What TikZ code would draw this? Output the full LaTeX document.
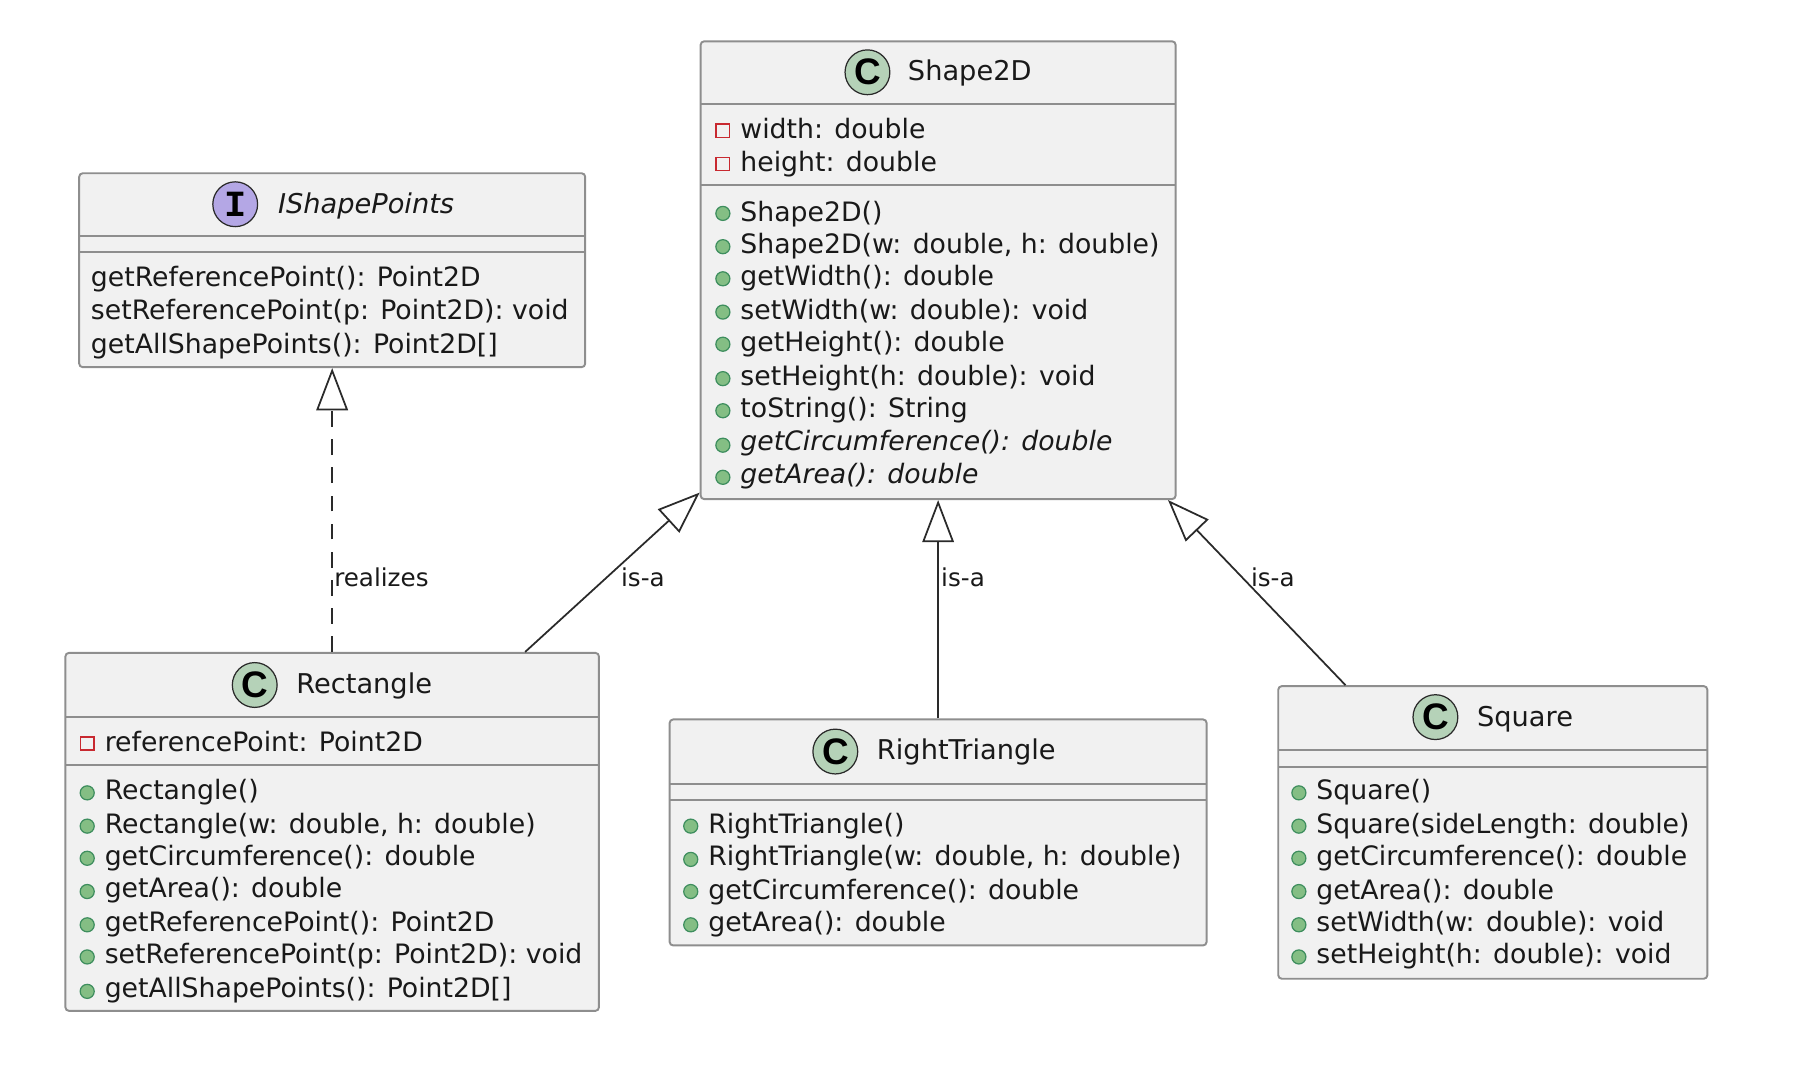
\documentclass[tikz,border=0pt]{standalone}
\usepackage{fontspec}
\setmainfont{DejaVu Sans}
\newfontfamily\slabfont{Liberation Mono}
\newfontfamily\badgefont{Liberation Sans}
\usetikzlibrary{positioning, arrows.meta}
\definecolor{boxfill}{HTML}{F1F1F1}
\definecolor{boxline}{HTML}{8E8E8E}
\definecolor{classfill}{HTML}{B5D2B8}
\definecolor{ifacefill}{HTML}{B4A7E5}
\definecolor{pubfill}{HTML}{84BE84}
\definecolor{publine}{HTML}{3E8E5E}
\definecolor{privline}{HTML}{C82930}
\definecolor{inkline}{HTML}{2A2A2A}
\tikzset{
  classbox/.style={draw=boxline, fill=boxfill, line width=1.1pt, rounded corners=2pt, inner sep=0pt},
  sepline/.style={draw=boxline, line width=1.1pt},
  badge/.style={circle, draw=inkline, line width=.7pt, minimum size=25.5pt, inner sep=0pt, font=\fontsize{21}{21}\selectfont\bfseries\badgefont},
  title/.style={anchor=west, inner sep=0pt, text height=13.5pt, text depth=3pt, font=\fontsize{15.5}{18}\selectfont, text=black!90},
  member/.style={anchor=west, inner sep=0pt, text height=13.5pt, text depth=3pt, font=\fontsize{15.2}{18}\selectfont, text=black!90},
  pubdot/.style={circle, draw=publine, fill=pubfill, line width=.7pt, minimum size=8pt, inner sep=0pt},
  privbox/.style={rectangle, draw=privline, line width=.9pt, minimum size=7.5pt, inner sep=0pt},
  edgelabel/.style={anchor=west, inner sep=0pt, font=\fontsize{14}{16}\selectfont, text=black!90},
  isa/.style={draw=inkline, line width=1pt, -{Triangle[open, fill=white, length=24pt, width=18pt]}},
  realize/.style={isa, dash pattern=on 9pt off 7pt}
}
\begin{document}
\begin{tikzpicture}[x=0.022947cm, y=-0.022947cm]
\useasboundingbox (0,0) rectangle (1567,932.5);

% interface
\node[classbox, minimum width=441*0.6529pt, minimum height=169*0.6529pt] (points) at (289.5,235.5) {};
\draw[sepline] (69,206) -- (510,206);
\draw[sepline] (69,220) -- (510,220);
\node[badge, fill=ifacefill] (pointsI) at (205,178) {\slabfont I};
\node[title] (pointsT) at (242,178) {\itshape IShapePoints};
\node[member] (p1) at (79,242) {getReferencePoint(): Point2D};
\node[member] (p2) at (79,270) {setReferencePoint(p: Point2D): void};
\node[member] (p3) at (79,300) {getAllShapePoints(): Point2D[]};

% abstract class
\node[classbox, minimum width=414*0.6529pt, minimum height=399*0.6529pt] (shape) at (817.6,235.5) {};
\draw[sepline] (611,91) -- (1025,91);
\draw[sepline] (611,161) -- (1025,161);
\node[badge, fill=classfill] (shapeC) at (756,63) {C};
\node[title] (shapeT) at (791,62) {Shape2D};
\node[privbox] (sa1) at (630,114) {};
\node[member] (sat1) at (645,113) {width: double};
\node[privbox] (sa2) at (630,143) {};
\node[member] (sat2) at (645,141) {height: double};
\node[pubdot] (sm1) at (630,186) {};
\node[member] (smt1) at (645,185) {Shape2D()};
\node[pubdot] (sm2) at (630,215) {};
\node[member] (smt2) at (645,213) {Shape2D(w: double, h: double)};
\node[pubdot] (sm3) at (630,243) {};
\node[member] (smt3) at (645,241) {getWidth(): double};
\node[pubdot] (sm4) at (630,272) {};
\node[member] (smt4) at (645,270) {setWidth(w: double): void};
\node[pubdot] (sm5) at (630,300) {};
\node[member] (smt5) at (645,298) {getHeight(): double};
\node[pubdot] (sm6) at (630,330) {};
\node[member] (smt6) at (645,328) {setHeight(h: double): void};
\node[pubdot] (sm7) at (630,358) {};
\node[member] (smt7) at (645,356) {toString(): String};
\node[pubdot] (sm8) at (630,388) {};
\node[member] (smt8) at (645,385) {\itshape getCircumference(): double};
\node[pubdot] (sm9) at (630,416) {};
\node[member] (smt9) at (645,413) {\itshape getArea(): double};

% rectangle
\node[classbox, minimum width=465*0.6529pt, minimum height=312*0.6529pt] (rect) at (289.5,725) {};
\draw[sepline] (57,625) -- (522,625);
\draw[sepline] (57,667) -- (522,667);
\node[badge, fill=classfill] (rectC) at (222,597) {C};
\node[title] (rectT) at (258,596) {Rectangle};
\node[privbox] (ra1) at (76,648) {};
\node[member] (rat1) at (91,647) {referencePoint: Point2D};
\node[pubdot] (rm1) at (76,691) {};
\node[member] (rmt1) at (91,689) {Rectangle()};
\node[pubdot] (rm2) at (76,720) {};
\node[member] (rmt2) at (91,718) {Rectangle(w: double, h: double)};
\node[pubdot] (rm3) at (76,748) {};
\node[member] (rmt3) at (91,746) {getCircumference(): double};
\node[pubdot] (rm4) at (76,777) {};
\node[member] (rmt4) at (91,774) {getArea(): double};
\node[pubdot] (rm5) at (76,806) {};
\node[member] (rmt5) at (91,804) {getReferencePoint(): Point2D};
\node[pubdot] (rm6) at (76,834) {};
\node[member] (rmt6) at (91,832) {setReferencePoint(p: Point2D): void};
\node[pubdot] (rm7) at (76,864) {};
\node[member] (rmt7) at (91,861) {getAllShapePoints(): Point2D[]};

% right triangle
\node[classbox, minimum width=468*0.6529pt, minimum height=197*0.6529pt] (tri) at (817.6,725.5) {};
\draw[sepline] (584,683) -- (1052,683);
\draw[sepline] (584,697) -- (1052,697);
\node[badge, fill=classfill] (triC) at (728,655) {C};
\node[title] (triT) at (764,654) {RightTriangle};
\node[pubdot] (tm1) at (602,720) {};
\node[member] (tmt1) at (617,718) {RightTriangle()};
\node[pubdot] (tm2) at (602,749) {};
\node[member] (tmt2) at (617,746) {RightTriangle(w: double, h: double)};
\node[pubdot] (tm3) at (602,777) {};
\node[member] (tmt3) at (617,776) {getCircumference(): double};
\node[pubdot] (tm4) at (602,806) {};
\node[member] (tmt4) at (617,804) {getArea(): double};

% square
\node[classbox, minimum width=374*0.6529pt, minimum height=255*0.6529pt] (sq) at (1301,725.5) {};
\draw[sepline] (1114,654) -- (1488,654);
\draw[sepline] (1114,668.4) -- (1488,668.4);
\node[badge, fill=classfill] (sqC) at (1251,625) {C};
\node[title] (sqT) at (1287,625) {Square};
\node[pubdot] (qm1) at (1132,691) {};
\node[member] (qmt1) at (1147,689) {Square()};
\node[pubdot] (qm2) at (1132,720) {};
\node[member] (qmt2) at (1147,718) {Square(sideLength: double)};
\node[pubdot] (qm3) at (1132,748) {};
\node[member] (qmt3) at (1147,746) {getCircumference(): double};
\node[pubdot] (qm4) at (1132,777) {};
\node[member] (qmt4) at (1147,776) {getArea(): double};
\node[pubdot] (qm5) at (1132,806) {};
\node[member] (qmt5) at (1147,804) {setWidth(w: double): void};
\node[pubdot] (qm6) at (1132,834) {};
\node[member] (qmt6) at (1147,832) {setHeight(h: double): void};

% relations
\draw[realize] (rect.north) -- (points.south);
\draw[isa] (rect.43.7) -- (shape.223.9);
\draw[isa] (tri.north) -- (shape.south);
\draw[isa] (sq.135.4) -- (shape.-45.7);
\node[edgelabel] (lblReal) at (291,503) {realizes};
\node[edgelabel] (lblRect) at (541,503) {is-a};
\node[edgelabel] (lblTri) at (820,503) {is-a};
\node[edgelabel] (lblSq) at (1090,503) {is-a};
\end{tikzpicture}
\end{document}
